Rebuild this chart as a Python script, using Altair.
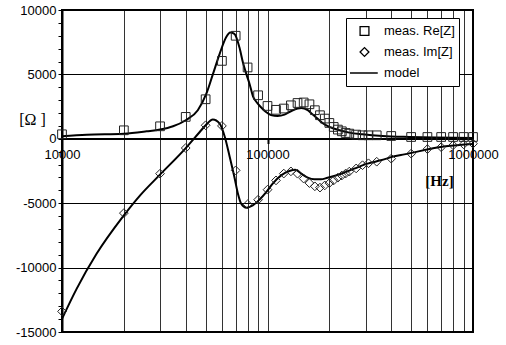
import altair as alt
import pandas as pd

# ---------------- data ----------------
meas_freq = [10000, 20000, 30000, 40000, 50000, 60000, 70000, 80000, 90000, 100000,
             110000, 120000, 130000, 140000, 150000, 160000, 170000, 180000, 190000, 200000,
             210000, 220000, 230000, 240000, 250000, 270000, 290000, 310000, 340000,
             400000, 500000, 600000, 700000, 800000, 900000, 1000000]
re_meas = [350, 660, 970, 1700, 3070, 6050, 8000, 5540, 3380, 2550,
           2250, 2350, 2600, 2780, 2820, 2680, 2220, 1830, 1570, 1230,
           920, 715, 583, 451, 404, 326, 272, 272, 272,
           218, 140, 140, 140, 140, 140, 140]
im_meas = [-13400, -5770, -2706, -715, 1050, 1000, -2450, -5090, -4730, -3950,
           -3230, -2700, -2530, -2710, -3090, -3440, -3690, -3790, -3620, -3440,
           -3230, -3020, -2850, -2700, -2550, -2300, -2050, -1900, -1780,
           -1540, -1150, -800, -650, -500, -430, -380]

re_model_f = [10000, 13200, 20000, 25800, 30000, 34700, 40000, 45800, 50400, 54200,
              58500, 63000, 65800, 69000, 73000, 76000, 79000, 82000, 85000, 88000,
              93000, 98000, 104000, 112000, 121000, 130000, 140000, 146000, 157000, 166000,
              175000, 185000, 200000, 224000, 250000, 290000, 363000, 489000, 659000, 1000000]
re_model_v = [195, 320, 400, 580, 715, 970, 1440, 2220, 3500, 5000,
              6600, 7900, 8250, 8150, 7100, 5900, 5000, 4200, 3300, 2900,
              2450, 2100, 1850, 1770, 1880, 2140, 2350, 2400, 2220, 1880,
              1570, 1230, 920, 660, 480, 350, 218, 140, 93, 60]

im_model_f = [10000, 11780, 14730, 19700, 24000, 29900, 39800, 46800, 50000, 54200,
              58500, 62000, 65500, 69000, 71800, 74500, 78900, 84800, 91300, 98600,
              106000, 116500, 127800, 136500, 146000, 157000, 169000, 182000, 196000, 228000,
              264000, 307000, 356000, 414000, 463000, 736000, 1000000]
im_model_v = [-13980, -11650, -8930, -6080, -4390, -2800, -760, 530, 1050, 1500,
              1180, 140, -1415, -2970, -4260, -5040, -5350, -5170, -4730, -4140,
              -3480, -2840, -2500, -2400, -2710, -3020, -3150, -3150, -3020, -2710,
              -2320, -1930, -1670, -1360, -1210, -580, -400]

series_names = ["meas. Re[Z]", "meas. Im[Z]", "model"]
x_ticks = [k * 10 ** e for e in (4, 5) for k in range(1, 10)] + [1000000]
y_ticks = list(range(-15000, 10001, 1000))

# ---------------- tables ----------------
meas_df = pd.concat([
    pd.DataFrame({"f": meas_freq, "v": re_meas, "series": series_names[0]}),
    pd.DataFrame({"f": meas_freq, "v": im_meas, "series": series_names[1]}),
])
model_df = pd.concat([
    pd.DataFrame({"f": re_model_f, "v": re_model_v, "comp": "Re"}),
    pd.DataFrame({"f": im_model_f, "v": im_model_v, "comp": "Im"}),
])

FONT = "Liberation Sans"
x_scale = alt.Scale(type="log", domain=[10000, 1000000], nice=False)
y_scale = alt.Scale(domain=[-15000, 10000], nice=False, zero=False)

x_axis = alt.Axis(
    values=x_ticks,
    labelExpr="(datum.value == 10000 || datum.value == 100000 || datum.value == 1000000) ? '' + datum.value : ''",
    offset=-193.5,
    domainColor="black", domainWidth=2,
    tickColor="black", tickWidth=2, tickSize=5,
    tickOpacity={"condition": {"test": "datum.value == 100000", "value": 1}, "value": 0},
    labelPadding=5, labelFont=FONT, labelFontSize=13, labelColor="black",
    labelAngle=0, labelFlush=False, labelOverlap=False, labelBound=False,
    grid=True, gridColor="black", gridOpacity=0.8, gridWidth=1,
    title="[Hz]", titleFont="Liberation Serif", titleFontWeight="bold", titleFontSize=15,
    titleColor="black", titleX=377, titleY=42, titleAlign="center", titleBaseline="middle",
)
y_axis = alt.Axis(
    values=y_ticks,
    labelExpr="datum.value % 5000 == 0 ? '' + datum.value : ''",
    domainColor="black", domainWidth=2,
    tickColor="black", tickSize=4, tickWidth=1,
    labelPadding=2, labelFont=FONT, labelFontSize=13, labelColor="black",
    labelOverlap=False, labelFlush=False, labelBound=False,
    grid=True, gridColor="black", gridWidth=1,
    gridOpacity={"condition": {"test": "datum.value % 5000 != 0 || datum.value == 0", "value": 0}, "value": 1},
    title="[Ω ]", titleFont="Liberation Serif", titleFontWeight="normal", titleFontSize=16,
    titleColor="black", titleAngle=0, titleX=-30, titleY=109, titleAlign="center", titleBaseline="middle",
)

legend = alt.Legend(
    title=None, orient="none", legendX=284, legendY=8,
    fillColor="white", strokeColor="black", padding=4,
    clipHeight=18, rowPadding=3, symbolOffset=8, labelOffset=13,
    symbolSize=78, symbolStrokeWidth=1.3,
    labelFont=FONT, labelFontSize=13, labelColor="black",
    symbolStrokeColor="black", symbolFillColor="transparent",
)

lines = alt.Chart(model_df).mark_line(
    color="black", strokeWidth=2, interpolate="monotone", clip=True
).encode(
    x=alt.X("f:Q", scale=x_scale, axis=x_axis),
    y=alt.Y("v:Q", scale=y_scale, axis=y_axis),
    detail="comp:N",
)

points = alt.Chart(meas_df).mark_point(
    filled=False, color="#222", opacity=1, size=76, strokeWidth=1, clip=False
).encode(
    x=alt.X("f:Q", scale=x_scale, axis=x_axis),
    y=alt.Y("v:Q", scale=y_scale, axis=y_axis),
    shape=alt.Shape("series:N",
                    scale=alt.Scale(domain=series_names, range=["square", "diamond", "M-4.2,0H3"]),
                    legend=legend),
)

chart = alt.layer(lines, points).properties(
    width=411, height=322,
    padding={"left": 62, "right": 33, "top": 10, "bottom": 13},
    autosize=alt.AutoSizeParams(type="none"),
    background="white",
).configure_view(
    stroke="black", strokeWidth=2
).configure_legend(
    strokeWidth=1
)

chart.save("out.html", embed_options={"renderer": "svg", "actions": False})
